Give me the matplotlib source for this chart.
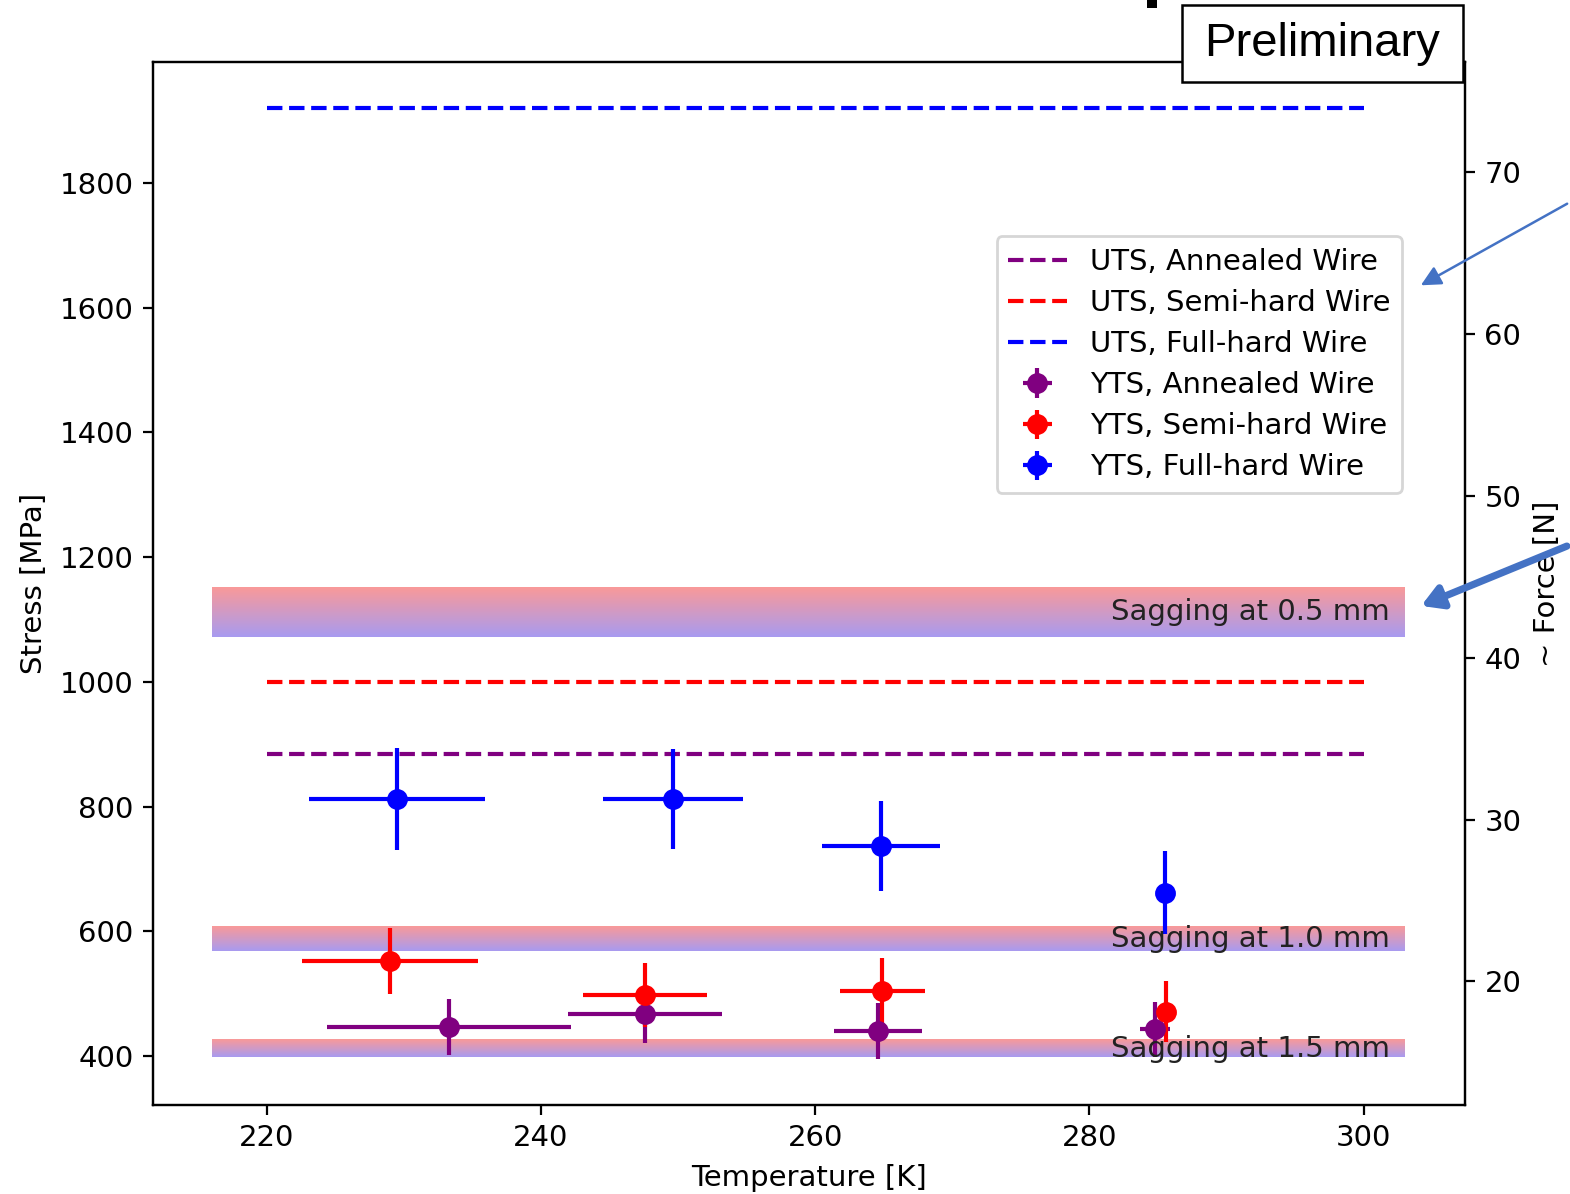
import numpy as np
import matplotlib
matplotlib.use("Agg")
import matplotlib.pyplot as plt
from matplotlib.patches import Rectangle, FancyArrowPatch

# ---- data ----
uts_labels = ["UTS, Annealed Wire", "UTS, Semi-hard Wire", "UTS, Full-hard Wire"]
uts_values = [885, 1000, 1920]
uts_colors = ["purple", "red", "blue"]
uts_T = [220, 300]

yts_labels = ["YTS, Annealed Wire", "YTS, Semi-hard Wire", "YTS, Full-hard Wire"]
yts_colors = ["purple", "red", "blue"]

ann_T = [233.3, 247.6, 264.6, 284.8]
ann_Terr = [8.9, 5.6, 3.2, 1.1]
ann_S = [447, 467, 440, 443]
ann_Serr = [45, 46, 45, 44]

semi_T = [229.0, 247.6, 264.9, 285.6]
semi_Terr = [6.4, 4.5, 3.1, 0.2]
semi_S = [552, 498, 504, 471]
semi_Serr = [53, 51, 53, 49]

full_T = [229.5, 249.6, 264.8, 285.5]
full_Terr = [6.4, 5.1, 4.3, 0.2]
full_S = [812, 812, 737, 662]
full_Serr = [82, 80, 72, 66]

sag_labels = ["Sagging at 0.5 mm", "Sagging at 1.0 mm", "Sagging at 1.5 mm"]
sag_lo = [1072, 568, 398]
sag_hi = [1152, 607, 426]
sag_T = [216, 303]

force_per_stress = 0.0385

plt.rcParams["font.size"] = 10.5

# ---- figure ----
fig = plt.figure(figsize=(7.85, 5.97), dpi=200)
ax = fig.add_axes([153/1570, 1-1105/1194, (1465-153)/1570, (1105-62)/1194])

# gradient bands
top_c = np.array([249, 153, 153]) / 255
bot_c = np.array([168, 155, 240]) / 255
t = np.linspace(0, 1, 64)[:, None]
grad = (top_c[None, :] * (1 - t) + bot_c[None, :] * t)[:, None, :]
for lo, hi, lab in zip(sag_lo, sag_hi, sag_labels):
    ax.imshow(grad, extent=[sag_T[0], sag_T[1], lo, hi], aspect="auto",
              origin="upper", zorder=1, interpolation="bilinear")
    ax.text(301.9, (lo + hi) / 2, lab, ha="right", va="center",
            color="#222222", zorder=5)

# UTS lines
handles = []
for v, c, lab in zip(uts_values, uts_colors, uts_labels):
    h, = ax.plot(uts_T, [v, v], "--", color=c, lw=1.5, label=lab, zorder=2)
    handles.append(h)

# YTS errorbars
for (T, Te, S, Se), c, lab in zip(
        [(ann_T, ann_Terr, ann_S, ann_Serr),
         (semi_T, semi_Terr, semi_S, semi_Serr),
         (full_T, full_Terr, full_S, full_Serr)], yts_colors, yts_labels):
    h = ax.errorbar(T, S, xerr=Te, yerr=Se, fmt="o", color=c, ms=6.5,
                    lw=1.5, label=lab, zorder=3)
    handles.append(h)

ax.set_xlim(211.7, 307.4)
ax.set_ylim(321.4, 1994)
ax.set_xticks([220, 240, 260, 280, 300])
ax.set_yticks([400, 600, 800, 1000, 1200, 1400, 1600, 1800])
ax.set_xlabel("Temperature [K]")
ax.set_ylabel("Stress [MPa]")

leg = ax.legend(handles=handles, loc="upper right", labelspacing=0.45,
                bbox_to_anchor=(0.952, 0.833), borderaxespad=0)

ax2 = ax.twinx()
ax2.set_ylim(321.4 * force_per_stress, 1994 * force_per_stress)
ax2.set_yticks([20, 30, 40, 50, 60, 70])
ax2.set_ylabel("~ Force [N]")

# Preliminary box
W, H = 1570, 1194
def fx(px):
    return px / W
def fy(py):
    return 1 - py / H

box = Rectangle((fx(1182), fy(82)), fx(1463) - fx(1182), fy(5) - fy(82),
                transform=fig.transFigure, facecolor="white", edgecolor="black",
                lw=0.9, zorder=10)
fig.add_artist(box)
fig.text(fx(1322), fy(44), "Preliminary", ha="center", va="center",
         fontsize=17, family="Liberation Sans", zorder=11)

# partial glyph fragment at top
frag = Rectangle((fx(1147), fy(8)), fx(1157) - fx(1147), fy(0) - fy(8),
                 transform=fig.transFigure, facecolor="black", edgecolor="none",
                 zorder=10)
fig.add_artist(frag)

# arrows
a1 = FancyArrowPatch((fx(1572), fy(201)), (fx(1416), fy(288)),
                     transform=fig.transFigure, arrowstyle="-|>,head_length=6,head_width=3",
                     color="#4472C4", lw=0.9, zorder=12)
fig.add_artist(a1)
a2 = FancyArrowPatch((fx(1572), fy(544)), (fx(1416), fy(608)),
                     transform=fig.transFigure, arrowstyle="-|>,head_length=6,head_width=3.5",
                     color="#4472C4", lw=2.6, zorder=12)
fig.add_artist(a2)

fig.savefig("out.png", dpi=200)
